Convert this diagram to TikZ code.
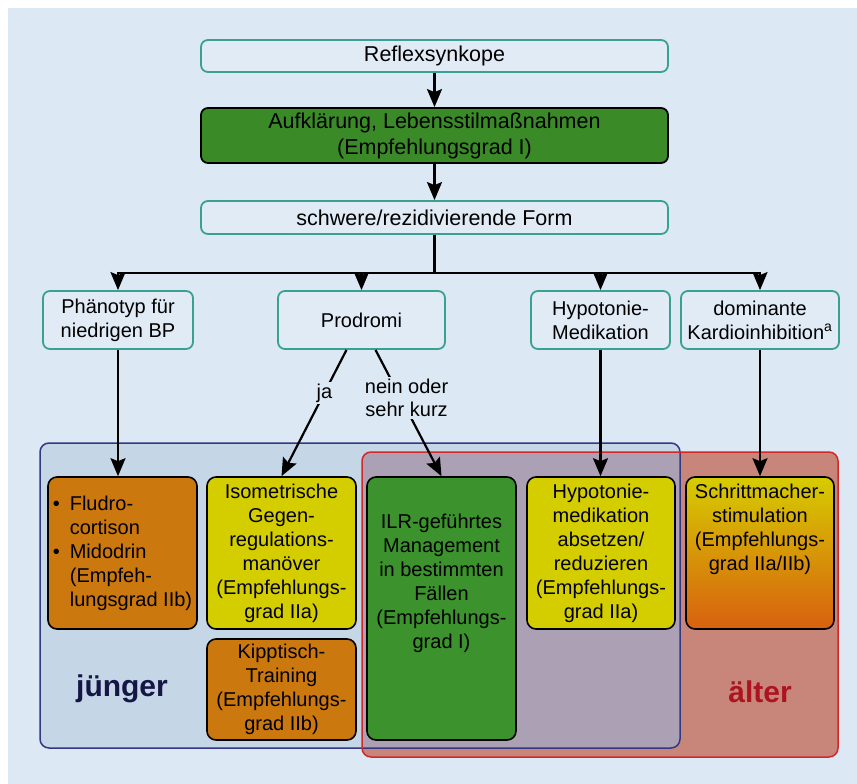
\documentclass[tikz,border=0pt]{standalone}
\usepackage{fontspec}
\setmainfont{Liberation Sans}
\usepackage[RGB]{xcolor}
\usepackage{tikz}
\usetikzlibrary{arrows.meta}
\definecolor{bg}{RGB}{220,233,245}
\definecolor{boxbg}{RGB}{225,235,246}
\definecolor{tealline}{RGB}{58,160,145}
\definecolor{G}{RGB}{58,138,40}
\definecolor{IG}{RGB}{60,146,44}
\definecolor{O}{RGB}{203,120,14}
\definecolor{Y}{RGB}{212,205,0}
\definecolor{PT}{RGB}{214,204,0}
\definecolor{PM}{RGB}{222,182,0}
\definecolor{PB}{RGB}{216,96,16}
\definecolor{youngfill}{RGB}{197,214,230}
\definecolor{youngline}{RGB}{52,56,130}
\definecolor{oldfill}{RGB}{200,134,123}
\definecolor{oldline}{RGB}{210,40,40}
\definecolor{bothfill}{RGB}{172,160,181}
\definecolor{youngtext}{RGB}{20,22,70}
\definecolor{oldtext}{RGB}{172,20,32}
\newcommand{\drawarrow}{\draw[arr]}
\newcommand{\bul}{\makebox[17pt][l]{\textbullet}}
\tikzset{
  topbox/.style={draw=tealline, line width=1.8pt, rounded corners=7pt, fill=boxbg,
    align=center, inner sep=0pt, font=\fontsize{21.5}{26}\selectfont},
  midbox/.style={topbox, minimum height=58pt, font=\fontsize{20}{24}\selectfont},
  stepbox/.style={draw=black, line width=1.6pt, rounded corners=9pt, align=center,
    inner sep=0pt, minimum width=149pt, font=\fontsize{20}{24}\selectfont},
  steptext/.style={align=center, font=\fontsize{20}{24}\selectfont},
  lbl/.style={fill=bg, inner sep=2pt, align=center, font=\fontsize{20}{23}\selectfont},
  agelabel/.style={font=\fontsize{30}{34}\selectfont\bfseries},
  arr/.style={line width=2.2pt, -{Stealth[length=18pt,width=15pt,inset=3pt]}},
}

\begin{document}
\begin{tikzpicture}[x=1pt,y=-1pt]
\useasboundingbox (0,0) rectangle (857,784);
\fill[bg] (8,8) rectangle (857,784);
% top of the chart
\node[topbox, minimum width=467pt, minimum height=32pt] (refl) at (434.5,56) {Reflexsynkope};
\node[topbox, draw=black, fill=G, minimum width=467pt, minimum height=55pt] (educ) at (434.5,135.5) {Aufklärung, Lebensstilmaßnahmen\\(Empfehlungsgrad I)};
\node[topbox, minimum width=467pt, minimum height=33pt] (sev) at (434.5,217.5) {schwere/rezidivierende Form};
\node[midbox, minimum width=150pt] (pheno) at (118,320) {Phänotyp für\\niedrigen BP};
\node[midbox, minimum width=167pt] (prod) at (361.5,320) {Prodromi};
\node[midbox, minimum width=139pt] (hymed) at (600.5,320) {Hypotonie-\\Medikation};
\node[midbox, minimum width=158pt] (kard) at (760,320) {dominante\\Kardioinhibition\textsuperscript{a}};
% age groups
\fill[youngfill, rounded corners=9pt] (40,443) rectangle (680,748);
\fill[oldfill, rounded corners=9pt] (362,452) rectangle (838,757);
\begin{scope}
  \clip[rounded corners=9pt] (362,452) rectangle (838,757);
  \fill[bothfill, rounded corners=9pt] (40,443) rectangle (680,748);
\end{scope}
\draw[youngline, line width=1.5pt, rounded corners=9pt] (40,443) rectangle (680,748);
\draw[oldline, line width=1.5pt, rounded corners=9pt] (362,452) rectangle (838,757);
\node[agelabel, text=youngtext] (young) at (122,689) {jünger};
\node[agelabel, text=oldtext] (old) at (760,692) {älter};
% therapies
\node[stepbox, fill=O, minimum height=152pt, align=left] (fludro) at (122.5,553) {\bul Fludro-\\\hphantom{\bul}cortison\\\bul Midodrin\\\hphantom{\bul}(Empfeh-\\\hphantom{\bul}lungsgrad IIb)};
\node[stepbox, fill=Y, minimum height=152pt] (iso) at (281.5,553) {Isometrische\\Gegen-\\regulations-\\manöver\\(Empfehlungs-\\grad IIa)};
\node[stepbox, fill=O, minimum height=101pt] (tilt) at (281.5,689.5) {Kipptisch-\\Training\\(Empfehlungs-\\grad IIb)};
\node[stepbox, fill=IG, minimum height=263pt] (ilr) at (441.5,608.5) {};
\node[steptext] (ilrtxt) at (441.5,583) {ILR-geführtes\\Management\\in bestimmten\\Fällen\\(Empfehlungs-\\grad I)};
\node[stepbox, fill=Y, minimum width=148pt, minimum height=152pt] (stop) at (601,553) {Hypotonie-\\medikation\\absetzen/\\reduzieren\\(Empfehlungs-\\grad IIa)};
\node[stepbox, top color=PT, middle color=PM, bottom color=PB, minimum width=148pt, minimum height=152pt] (pace) at (760,553) {};
\node[steptext] (pacetxt) at (760,529) {Schrittmacher-\\stimulation\\(Empfehlungs-\\grad IIa/IIb)};
% connectors
\drawarrow (refl) -- (educ);
\drawarrow (educ) -- (sev);
\foreach \n in {pheno,prod,hymed,kard}{
  \drawarrow (sev.south) -- ++(0,38) -| (\n.north);
}
\drawarrow (pheno.south) -- (pheno.south |- fludro.north);
\drawarrow ([xshift=-15pt]prod.south) -- node[lbl, pos=0.34] (yes) {ja} (iso.north);
\drawarrow ([xshift=14pt]prod.south) -- node[lbl, pos=0.38, xshift=6pt] (no) {nein oder\\sehr kurz} (ilr.north);
\drawarrow (hymed.south) -- (hymed.south |- stop.north);
\drawarrow (kard.south) -- (kard.south |- pace.north);
\end{tikzpicture}
\end{document}
